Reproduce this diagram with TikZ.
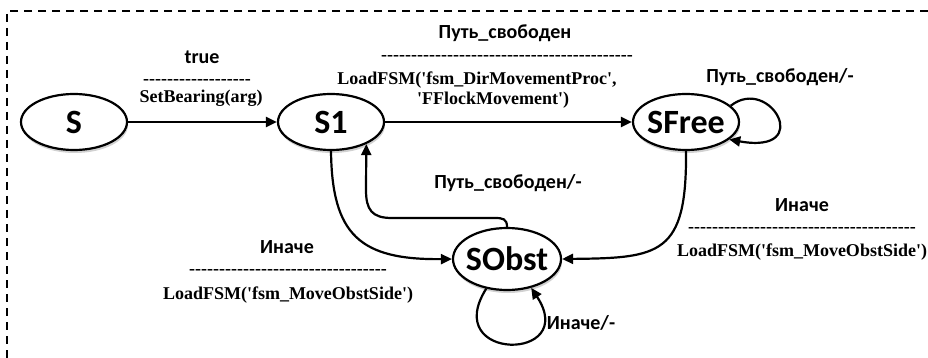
\documentclass[tikz,border=0pt]{standalone}
\usetikzlibrary{shapes.geometric,arrows.meta,shadows}
% Fonts loaded directly (no TeX ligature mapping, so ' and - stay as typed)
\font\statefnt="Carlito/B" at 34pt
\font\labelfnt="Carlito/B" at 20pt
\font\codefnt="Liberation Serif/B" at 18pt
\ExplSyntaxOn
\NewDocumentCommand\dashrow{m}{\prg_replicate:nn{#1}{-}}
\ExplSyntaxOff
\tikzset{
  state/.style={ellipse, draw, line width=2.2pt, inner sep=0pt,
    minimum width=106pt, minimum height=56pt, font=\statefnt, fill=white,
    drop shadow={shadow xshift=1pt, shadow yshift=-3pt, fill=black!18, opacity=1}},
  trans/.style={line width=2.2pt, -{Triangle[length=11pt,width=10pt]}},
  lbl/.style={inner sep=0pt, font=\labelfnt},
  code/.style={inner sep=0pt, font=\codefnt},
  frame/.style={dash pattern=on 8pt off 6pt, line width=1.3pt},
}
\begin{document}
\begin{tikzpicture}[x=1pt,y=1pt]
\useasboundingbox (0,0) rectangle (928,-358);
\draw[frame] (928,-11) -| (7,-358);

% states
\node[state] (S)  at (74,-122)  {\makebox[0pt]{S}};
\node[state] (S1) at (331,-122) {\makebox[0pt]{S1}};
\node[state] (SF) at (686,-122) {\makebox[0pt]{SFree}};
\node[state, minimum width=108pt, minimum height=62pt] (SO) at (507,-259) {\makebox[0pt]{SObst}};

% transitions
\draw[trans] (S) -- (S1);
\draw[trans] (S1) -- (SF);
\draw[trans] (S1.south) .. controls (332,-235) and (360,-260) .. (SO.west);
\draw[trans] (SO.north) .. controls (507,-219) and (503,-218) .. (495,-218)
  -- (392,-218) .. controls (372,-218) and (366,-210) .. (366,-190) -- (S1.-32);
\draw[trans] (SF.south) .. controls (687,-255) and (660,-258) .. (SO.east);
\draw[trans] (SF.20) .. controls (770,-75) and (815,-155) .. (SF.-22);
\draw[trans] (SO.-125) .. controls (440,-362) and (580,-362) .. (SO.-50);

% labels
\node[lbl]  (l1a) at (202,-57) {true};
\node[code] (l1b) at (197,-82) {\dashrow{18}};
\node[code] (l1c) at (201,-98) {SetBearing(arg)};

\node[lbl]  (l2a) at (505,-33) {Путь\_свободен};
\node[code] (l2b) at (507,-58) {\dashrow{42}};
\node[code] (l2c) at (477,-80) {LoadFSM('fsm\_DirMovementProc',};
\node[code] (l2d) at (493,-100) {'FFlockMovement')};

\node[lbl]  (l3) at (780,-77) {Путь\_свободен/-};
\node[lbl]  (l4) at (508,-183) {Путь\_свободен/-};

\node[lbl]  (l5a) at (287,-247) {Иначе};
\node[code] (l5b) at (288,-272) {\dashrow{33}};
\node[code] (l5c) at (288,-295) {LoadFSM('fsm\_MoveObstSide')};

\node[lbl]  (l6a) at (802,-205) {Иначе};
\node[code] (l6b) at (802,-230) {\dashrow{38}};
\node[code] (l6c) at (802,-252) {LoadFSM('fsm\_MoveObstSide')};

\node[lbl]  (l7) at (581,-323) {Иначе/-};
\end{tikzpicture}
\end{document}
